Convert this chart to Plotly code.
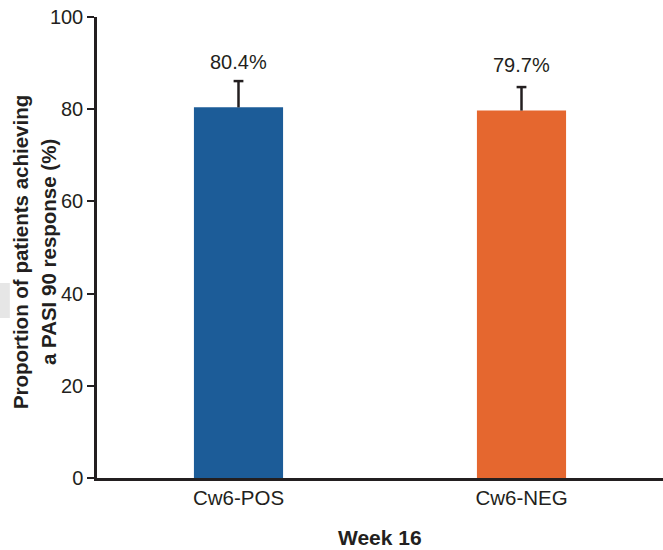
import plotly.graph_objects as go

categories = ["Cw6-POS", "Cw6-NEG"]
values = [80.4, 79.7]
err_upper = [5.7, 5.1]
labels = ["80.4%", "79.7%"]
colors = ["#1C5C98", "#E5672F"]
y_ticks = [0, 20, 40, 60, 80, 100]
y_title_lines = ["Proportion of patients achieving", "a PASI 90 response (%)"]
x_title = "Week 16"

FONT = "Liberation Sans, Arial, sans-serif"
TXT = "#231F20"

fig = go.Figure()
fig.add_trace(go.Bar(
    x=categories, y=values,
    marker=dict(color=colors, line=dict(width=0)),
    width=0.315,
    showlegend=False, hoverinfo="skip",
))

# upper-only error bars: stem from bar top to upper bound, cap at upper bound
ex, ey = [], []
for c, v, e in zip(categories, values, err_upper):
    ex += [c, c, None]
    ey += [v, v + e, None]
fig.add_trace(go.Scatter(x=ex, y=ey, mode="lines",
                         line=dict(color=TXT, width=2.5),
                         showlegend=False, hoverinfo="skip"))
fig.add_trace(go.Scatter(x=categories, y=[v + e for v, e in zip(values, err_upper)],
                         mode="markers",
                         marker=dict(symbol="line-ew-open", size=7, color=TXT,
                                     line=dict(color=TXT, width=2.5)),
                         showlegend=False, hoverinfo="skip"))

for c, v, t in zip(categories, values, labels):
    fig.add_annotation(x=c, y=v + 9.8, text=t, showarrow=False,
                       yanchor="middle",
                       font=dict(family=FONT, size=20, color=TXT))

for shift, line in zip([-77, -49], y_title_lines):
    fig.add_annotation(xref="paper", yref="paper", x=0, y=0.49, xshift=shift,
                       text="<b>" + line + "</b>",
                       textangle=-90, showarrow=False, xanchor="center", yanchor="middle",
                       font=dict(family=FONT, size=20.5, color=TXT))
fig.add_annotation(xref="paper", yref="paper", x=0.5, y=0, yshift=-59,
                   text="<b>" + x_title + "</b>", showarrow=False, xanchor="center", yanchor="middle",
                   font=dict(family=FONT, size=21, color=TXT))

fig.add_shape(type="rect", xref="paper", yref="paper", x0=-0.172, x1=-0.154,
              y0=0.347, y1=0.423, fillcolor="#E6E6E6", line=dict(width=0), layer="below")

fig.update_layout(
    width=663, height=550,
    margin=dict(l=97, r=0, t=17, b=72),
    plot_bgcolor="white", paper_bgcolor="white",
    font=dict(family=FONT, size=20, color=TXT),
    xaxis=dict(range=[-0.5, 1.5], showline=True, linecolor=TXT, linewidth=2.5,
               ticks="", tickfont=dict(size=20.5), showgrid=False, zeroline=False),
    yaxis=dict(range=[0, 100], tickvals=y_ticks, showline=True, linecolor=TXT,
               linewidth=2.5, ticks="outside", ticklen=7, tickwidth=2, tickcolor=TXT,
               tickfont=dict(size=20), showgrid=False, zeroline=False),
)

fig.write_html("out.html", config={"displayModeBar": False},
               post_script="document.body.style.margin='0';document.body.style.overflow='hidden';")
